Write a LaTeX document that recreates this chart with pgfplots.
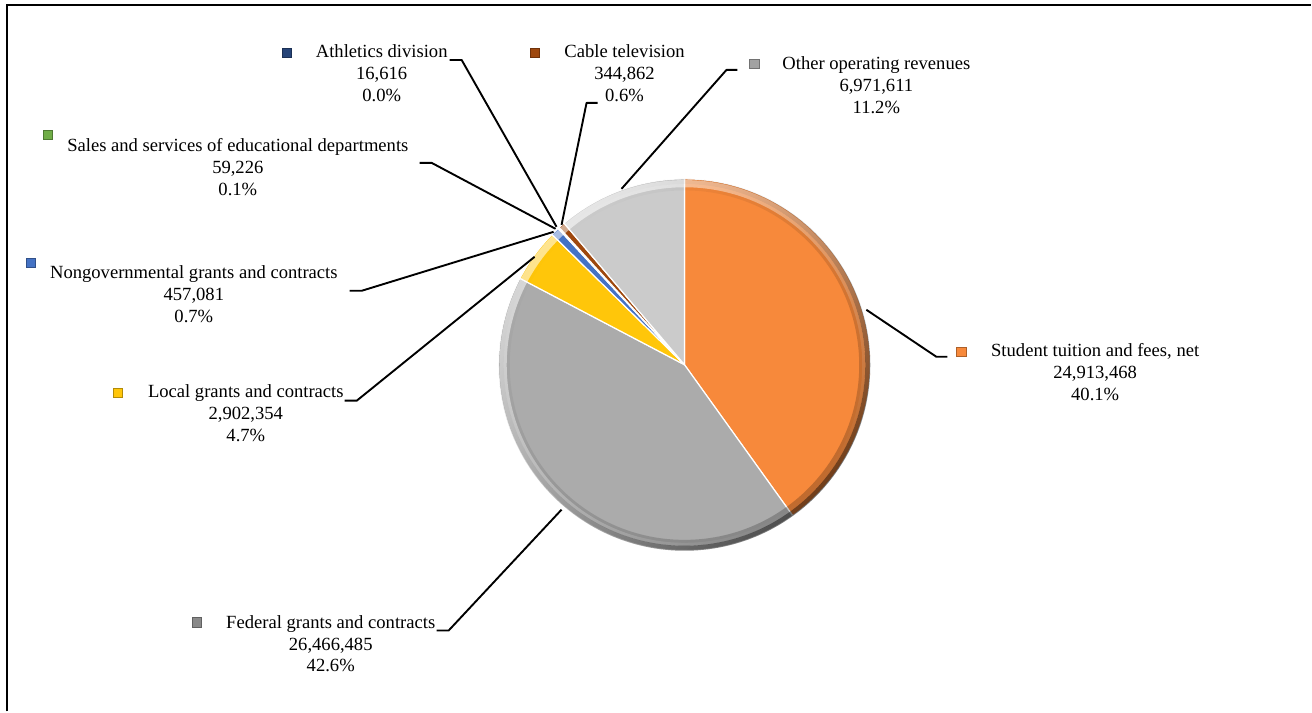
\documentclass[border=0pt]{standalone}
\usepackage{pgfplots}
\usepackage{pgfplotstable}
\pgfplotsset{compat=1.18}
\usetikzlibrary{fadings}
\usepackage{fontspec}
\setmainfont{Liberation Serif}

\definecolor{cOrange}{HTML}{F7893B}
\definecolor{cFed}{HTML}{ABABAB}
\definecolor{cGold}{HTML}{FFC60A}
\definecolor{cBlue}{HTML}{4472C4}
\definecolor{cGreen}{HTML}{70AD47}
\definecolor{cAth}{HTML}{264478}
\definecolor{cCable}{HTML}{9E480E}
\definecolor{cOther}{HTML}{CBCBCB}

% fadings for the bevel
\tikzfading[name=darkfade, top color=transparent!100, bottom color=transparent!45]
\tikzfading[name=lightfade, top color=transparent!45, bottom color=transparent!100]

% slices clockwise from 12 o'clock
\pgfplotstableread{
value color
24913468 cOrange
26466485 cFed
2902354 cGold
457081 cBlue
59226 cGreen
16616 cAth
344862 cCable
6971611 cOther
}\pietable

\gdef\pietotal{0}%
\pgfplotsforeachungrouped \i in {0,1,2,3,4,5,6,7}{%
  \pgfplotstablegetelem{\i}{value}\of\pietable
  \xdef\pietotal{\fpeval{\pietotal+\pgfplotsretval}}%
}%
\gdef\piecum{0}%
\pgfplotsforeachungrouped \i in {0,1,2,3,4,5,6,7}{%
  \pgfplotstablegetelem{\i}{value}\of\pietable
  \expandafter\xdef\csname pieA\i\endcsname{\fpeval{round(90-360*\piecum/\pietotal,4)}}%
  \xdef\piecum{\fpeval{\piecum+\pgfplotsretval}}%
  \expandafter\xdef\csname pieB\i\endcsname{\fpeval{round(90-360*\piecum/\pietotal,4)}}%
}%

\newcommand\labelfont{\fontsize{9.3}{10.85}\selectfont}
% #1 xc, #2 first-line centre y (px from top), #3 marker x, #4 marker y, #5 colour, #6-#8 lines
\newcommand\pielabel[8]{%
  \node[fill=#5, draw=#5!70!black, line width=0.3pt, minimum size=4.8pt, inner sep=0pt] at (axis cs:#3,{712-#4}) {};
  \node[anchor=base, inner sep=0pt, font=\labelfont] at (axis cs:#1,{712-#2-5}) {#6};
  \node[anchor=base, inner sep=0pt, font=\labelfont] at (axis cs:#1,{712-#2-5-21.7}) {#7};
  \node[anchor=base, inner sep=0pt, font=\labelfont] at (axis cs:#1,{712-#2-5-43.4}) {#8};
}
\newcommand\leader[6]{%
  \draw[line width=0.95pt, line join=round] (axis cs:#1,{712-#2}) -- (axis cs:#3,{712-#4}) -- (axis cs:#5,{712-#6});
}

\begin{document}
\begin{tikzpicture}
\begin{axis}[
  x=0.5pt, y=0.5pt,
  xmin=0, xmax=1312, ymin=0, ymax=712,
  hide axis, clip=false, scale only axis,
]
\pgfplotsextra{%
  \foreach \i in {0,...,7}{%
    \pgfplotstablegetelem{\i}{color}\of\pietable
    \edef\col{\pgfplotsretval}%
    \edef\a{\csname pieA\i\endcsname}%
    \edef\b{\csname pieB\i\endcsname}%
    \path[fill=\col, draw=white, line width=0.6pt, line join=round]
      (axis cs:685,347) -- ++(\a:93pt) arc[start angle=\a, end angle=\b, radius=93pt] -- cycle;
  }%
  % bevel rim
  \fill[black, path fading=darkfade, fading angle=45, even odd rule]
    (axis cs:685,347) circle[radius=93pt] (axis cs:685,347) circle[radius=90.5pt];
  \fill[black, path fading=darkfade, fading angle=45, even odd rule, fill opacity=0.4]
    (axis cs:685,347) circle[radius=90.5pt] (axis cs:685,347) circle[radius=87.5pt];
  \fill[white, path fading=lightfade, fading angle=45, even odd rule]
    (axis cs:685,347) circle[radius=92.6pt] (axis cs:685,347) circle[radius=89pt];
}
% frame
\draw[line width=1pt] (axis cs:7.5,0) -- (axis cs:7.5,707) -- (axis cs:1312,707);
\path (axis cs:0,0) rectangle (axis cs:1312,712);

% leader lines
\leader{450}{60}{462}{60}{557}{227}
\leader{598}{103}{587}{103}{562}{225}
\leader{738}{70}{727}{70}{622}{189}
\leader{420}{163}{432}{163}{556}{229}
\leader{350}{291}{362}{291}{554}{232}
\leader{345}{401}{357}{401}{535}{257}
\leader{437}{631}{449}{631}{562}{510}
\leader{948}{357}{937}{357}{867}{310}

% labels
\pielabel{382}{53}{287}{53}{cAth}{Athletics division}{16,616}{0.0\%}
\pielabel{625}{53}{535}{53}{cCable}{Cable television}{344,862}{0.6\%}
\pielabel{877}{65}{755}{64}{cOther!80!black}{Other operating revenues}{6,971,611}{11.2\%}
\pielabel{238}{147}{48}{135}{cGreen}{Sales and services of educational departments}{59,226}{0.1\%}
\pielabel{194}{274}{31}{263}{cBlue}{Nongovernmental grants and contracts}{457,081}{0.7\%}
\pielabel{246}{393}{118}{393}{cGold}{Local grants and contracts}{2,902,354}{4.7\%}
\pielabel{331}{624}{197}{623}{cFed!80!black}{Federal grants and contracts}{26,466,485}{42.6\%}
\pielabel{1096}{352}{962}{352}{cOrange}{Student tuition and fees, net}{24,913,468}{40.1\%}
\end{axis}
\end{tikzpicture}
\end{document}
